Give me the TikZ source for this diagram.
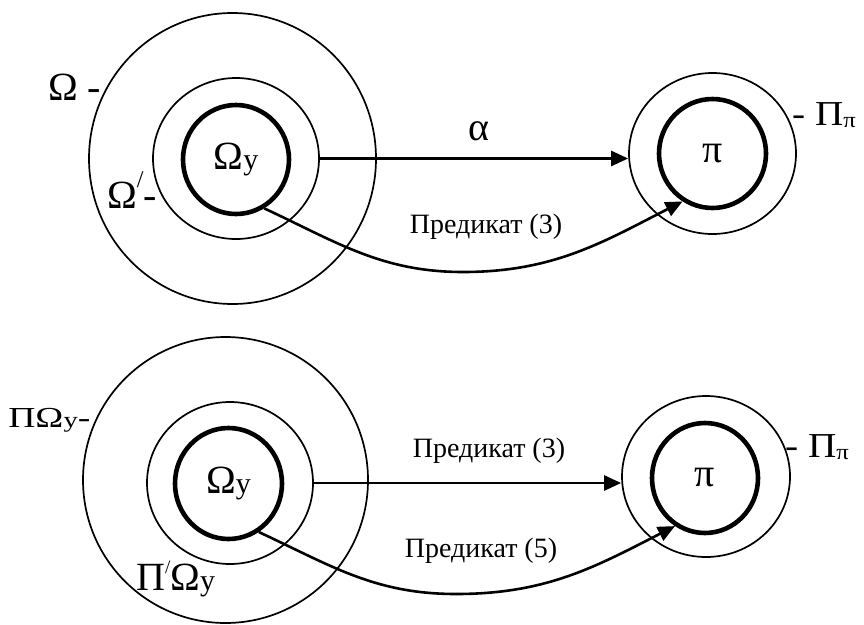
\documentclass[tikz,border=0pt]{standalone}
\usepackage{fontspec}
\setmainfont{Liberation Serif}
\usetikzlibrary{arrows.meta,shapes.geometric}
\newcommand\fsz[1]{\fontsize{#1}{#1}\selectfont}
\begin{document}
\begin{tikzpicture}[x=1pt,y=-1pt,
  ring/.style={ellipse, draw, line width=1.7pt, inner sep=0pt},
  core/.style={ellipse, draw, line width=4.6pt, inner sep=0pt, font=\fsz{40}},
  arr/.style={line width=2.6pt, -{Triangle[length=17pt,width=15pt]}},
  lbl/.style={inner sep=0pt, anchor=base west, font=\fsz{40}},
  pred/.style={inner sep=0pt, anchor=base, font=\fsz{28}},
]
\useasboundingbox (0,0) rectangle (864,624);

% ---------- top diagram ----------
\node[ring, minimum width=287pt, minimum height=291pt] (LO1) at (232.5,158.5) {};
\node[ring, minimum width=166pt, minimum height=161pt] (LM1) at (236,158.5) {};
\node[core, minimum width=106pt, minimum height=109pt] (LI1) at (236,159.5) {Ω{\fsz{30}у}};
\node[ring, minimum width=167pt, minimum height=161pt] (RO1) at (712.5,153.5) {};
\node[core, minimum width=107pt, minimum height=109pt] (RI1) at (712.5,153.5) {π};

\node[lbl] (tO) at (48,100) {Ω -};
\node[lbl] (tOp) at (107,208) {Ω\raisebox{21pt}{\fsz{24}/}-};
\node[lbl, font=\fsz{35}, xscale=1.12] (tPp) at (792,125) {- Π\raisebox{-2pt}{\fsz{22}π}};
\node[inner sep=0pt, anchor=base, font=\fsz{40}] (alpha) at (479,140) {α};
\node[pred] (p1) at (486,233) {Предикат (3)};

\draw[arr] (LM1.east) -- (LM1.east -| RO1.west);
\coordinate (M1) at (463,272);
\draw[line width=2.6pt] (LI1.-60) .. controls +(73,34) and +(-81,0) .. (M1);
\draw[arr] (M1) .. controls +(90,0) and +(-80,41) .. (RI1.-122);

% ---------- bottom diagram ----------
\node[ring, minimum width=285pt, minimum height=286pt] (LO2) at (225.5,480) {};
\node[ring, minimum width=166pt, minimum height=162pt] (LM2) at (230,483) {};
\node[core, minimum width=107pt, minimum height=111pt] (LI2) at (228.5,483.5) {Ω{\fsz{30}у}};
\node[ring, minimum width=168pt, minimum height=161pt] (RO2) at (706,476.5) {};
\node[core, minimum width=106pt, minimum height=110pt] (RI2) at (705,478) {π};

\node[lbl, font=\fsz{29}, xscale=1.3] (bPO) at (8,427) {ΠΩ{\fsz{22}у}-};
\node[lbl] (bPpO) at (136,590) {Π\raisebox{17pt}{\fsz{19}/}Ω{\fsz{30}у}};
\node[lbl, font=\fsz{35}, xscale=1.12] (bPp) at (785,457) {- Π\raisebox{-2pt}{\fsz{22}π}};
\node[pred] (p3) at (489,457) {Предикат (3)};
\node[pred] (p5) at (481,557) {Предикат (5)};

\draw[arr] (LM2.east) -- (LM2.east -| RO2.west);
\coordinate (M2) at (456,594);
\draw[line width=2.6pt] (LI2.-58) .. controls +(73,34) and +(-81,0) .. (M2);
\draw[arr] (M2) .. controls +(90,0) and +(-80,41) .. (RI2.-122);
\end{tikzpicture}
\end{document}
